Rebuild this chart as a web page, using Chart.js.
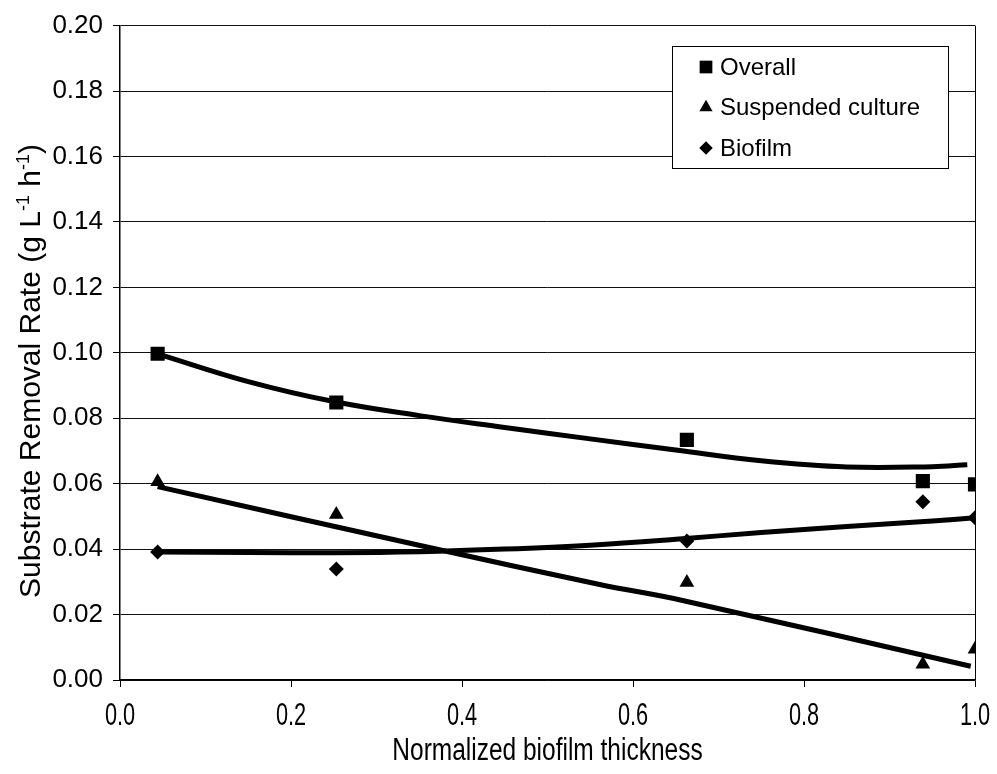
<!DOCTYPE html>
<html>
<head>
<meta charset="utf-8">
<script src="https://cdn.jsdelivr.net/npm/chart.js@4.4.1/dist/chart.umd.min.js"></script>
<style>
  html, body { margin: 0; padding: 0; background: #fff; overflow: hidden; }
  canvas { display: block; }
</style>
</head>
<body>
<canvas id="removalChart" width="997" height="774"></canvas>
<script>
// measured points
const thickness = [0.044, 0.253, 0.663, 0.939, 1.0];
const overallRate = [0.0997, 0.0848, 0.0734, 0.0608, 0.0598];
const suspendedRate = [0.0606, 0.0506, 0.0298, 0.0048, 0.0094];
const biofilmRate = [0.0391, 0.0339, 0.0425, 0.0545, 0.0496];

// trend lines
const overallTrendX = [0.044, 0.15, 0.25, 0.35, 0.45, 0.55, 0.65, 0.75, 0.85, 0.95, 0.991];
const overallTrendY = [0.0997, 0.0912, 0.0851, 0.0808, 0.0772, 0.0737, 0.0703, 0.0670, 0.0651, 0.0652, 0.0658];
const suspendedTrendX = [0.044, 0.351, 0.561, 0.658, 0.995];
const suspendedTrendY = [0.0591, 0.0411, 0.0292, 0.0243, 0.0042];
const biofilmTrendX = [0.044, 0.15, 0.25, 0.35, 0.45, 0.55, 0.65, 0.75, 0.85, 0.95, 1.0];
const biofilmTrendY = [0.0391, 0.0390, 0.0389, 0.0392, 0.0400, 0.0412, 0.0430, 0.0451, 0.0469, 0.0486, 0.0496];

const seriesNames = ['Overall', 'Suspended culture', 'Biofilm'];
const seriesStyles = ['rect', 'triangle', 'rectRot'];
const seriesRadius = [10, 8.5, 7.5];

const xTicks = [0, 0.2, 0.4, 0.6, 0.8, 1.0];
const yTicks = [0, 0.02, 0.04, 0.06, 0.08, 0.10, 0.12, 0.14, 0.16, 0.18, 0.20];

const xTitle = 'Normalized biofilm thickness';
const yTitleParts = [
    { t: 'Substrate Removal Rate (g L', sup: false },
    { t: '-1', sup: true },
    { t: ' h', sup: false },
    { t: '-1', sup: true },
    { t: ')', sup: false }
];

const toPts = (xs, ys) => xs.map((x, i) => ({ x: x, y: ys[i] }));

const sansFont = '"Liberation Sans", Arial, sans-serif';

function marker(ctx, style, r, x, y) {
    ctx.beginPath();
    if (style === 'rect') {
        const s = Math.SQRT1_2 * r;
        ctx.rect(x - s, y - s, 2 * s, 2 * s);
    } else if (style === 'triangle') {
        ctx.moveTo(x, y - r);
        ctx.lineTo(x + Math.sin(2 * Math.PI / 3) * r, y + r / 2);
        ctx.lineTo(x - Math.sin(2 * Math.PI / 3) * r, y + r / 2);
        ctx.closePath();
    } else {
        ctx.moveTo(x - r, y);
        ctx.lineTo(x, y - r);
        ctx.lineTo(x + r, y);
        ctx.lineTo(x, y + r);
        ctx.closePath();
    }
    ctx.fill();
}

// narrow text: regular sans squeezed sideways
function narrowText(ctx, text, x, y, size, squeeze) {
    ctx.save();
    ctx.font = size + 'px ' + sansFont;
    ctx.textAlign = 'center';
    ctx.textBaseline = 'middle';
    ctx.translate(x, y);
    ctx.scale(squeeze, 1);
    ctx.fillText(text, 0, 0);
    ctx.restore();
}

const decor = {
    id: 'decor',
    afterDraw(chart) {
        const { ctx, chartArea } = chart;
        const xs = chart.scales.x;
        ctx.save();
        ctx.fillStyle = '#000';

        // x tick labels and title
        xTicks.forEach(v => narrowText(ctx, v.toFixed(1), xs.getPixelForValue(v), 716, 32, 0.68));
        narrowText(ctx, xTitle, (chartArea.left + chartArea.right) / 2, 751, 31, 0.79);

        // y title with superscripts
        const mainF = '30px ' + sansFont;
        const supF = '18px ' + sansFont;
        let total = 0;
        yTitleParts.forEach(p => {
            ctx.font = p.sup ? supF : mainF;
            p.w = ctx.measureText(p.t).width;
            total += p.w;
        });
        ctx.translate(30, 371);
        ctx.rotate(-Math.PI / 2);
        ctx.textAlign = 'left';
        ctx.textBaseline = 'alphabetic';
        let cx = -total / 2;
        yTitleParts.forEach(p => {
            ctx.font = p.sup ? supF : mainF;
            ctx.fillText(p.t, cx, p.sup ? -1 : 10);
            cx += p.w;
        });
        ctx.restore();

        // legend box
        ctx.save();
        ctx.fillStyle = '#fff';
        ctx.fillRect(672, 46, 276, 122);
        ctx.strokeStyle = '#000';
        ctx.lineWidth = 1;
        ctx.strokeRect(672.5, 46.5, 276, 122);
        ctx.fillStyle = '#000';
        ctx.font = '24px ' + sansFont;
        ctx.textAlign = 'left';
        ctx.textBaseline = 'middle';
        seriesNames.forEach((name, i) => {
            const y = 67 + i * 40.5;
            marker(ctx, seriesStyles[i], seriesRadius[i] * 0.9, 706, y);
            ctx.fillText(name, 720, y + 1);
        });
        ctx.restore();
    }
};

const trendStyle = {
    showLine: true,
    borderColor: '#000',
    borderWidth: 5,
    pointRadius: 0,
    tension: 0.4,
    fill: false
};

new Chart(document.getElementById('removalChart').getContext('2d'), {
    type: 'scatter',
    data: {
        datasets: [
            Object.assign({ label: 'Overall trend', data: toPts(overallTrendX, overallTrendY) }, trendStyle),
            Object.assign({ label: 'Suspended trend', data: toPts(suspendedTrendX, suspendedTrendY) }, trendStyle),
            Object.assign({ label: 'Biofilm trend', data: toPts(biofilmTrendX, biofilmTrendY) }, trendStyle),
            {
                label: seriesNames[0], data: toPts(thickness, overallRate),
                pointStyle: seriesStyles[0], pointRadius: seriesRadius[0],
                backgroundColor: '#000', borderColor: '#000', borderWidth: 0
            },
            {
                label: seriesNames[1], data: toPts(thickness, suspendedRate),
                pointStyle: seriesStyles[1], pointRadius: seriesRadius[1],
                backgroundColor: '#000', borderColor: '#000', borderWidth: 0
            },
            {
                label: seriesNames[2], data: toPts(thickness, biofilmRate),
                pointStyle: seriesStyles[2], pointRadius: seriesRadius[2],
                backgroundColor: '#000', borderColor: '#000', borderWidth: 0
            }
        ]
    },
    options: {
        responsive: false,
        animation: false,
        layout: { padding: { top: 20, right: 22, left: 0, bottom: 0 } },
        plugins: { legend: { display: false }, tooltip: { enabled: false } },
        scales: {
            x: {
                type: 'linear',
                min: 0, max: 1,
                afterBuildTicks: s => { s.ticks = xTicks.map(v => ({ value: v })); },
                afterFit: s => { s.height = 94; },
                ticks: { display: false },
                grid: {
                    color: c => (c.index === xTicks.length - 1 ? '#000' : 'rgba(0,0,0,0)'),
                    tickColor: '#000',
                    tickLength: 7,
                    lineWidth: 1
                },
                border: { color: '#000', width: 1.5 }
            },
            y: {
                type: 'linear',
                min: 0, max: 0.2,
                afterBuildTicks: s => { s.ticks = yTicks.map(v => ({ value: v })); },
                afterFit: s => { s.width = 120; },
                ticks: {
                    color: '#000',
                    padding: 10,
                    font: { family: sansFont, size: 26 },
                    callback: v => Number(v).toFixed(2)
                },
                grid: {
                    color: '#111',
                    tickColor: '#000',
                    tickLength: 7,
                    lineWidth: 1
                },
                border: { color: '#000', width: 1.5 }
            }
        }
    },
    plugins: [decor]
});
</script>
</body>
</html>
